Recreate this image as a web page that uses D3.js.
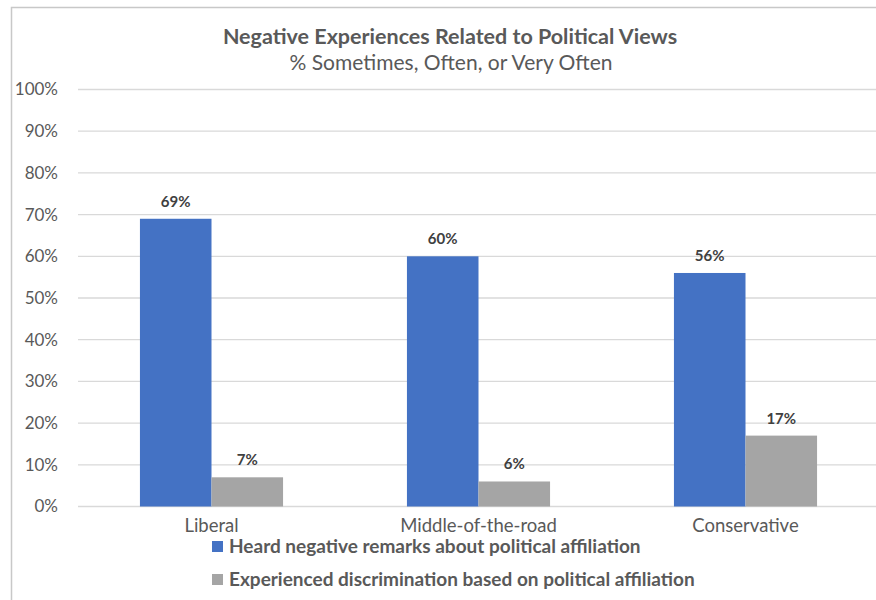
<!DOCTYPE html>
<html>
<head>
<meta charset="utf-8">
<script src="https://cdn.jsdelivr.net/npm/d3@7"></script>
<style>
  html, body { margin: 0; padding: 0; background: #fff; }
  svg { display: block; font-family: Lato, "Open Sans", sans-serif; }
</style>
</head>
<body>
<svg id="chart" width="876" height="600"></svg>
<script>
const categories = ["Liberal", "Middle-of-the-road", "Conservative"];
const seriesNames = [
  "Heard negative remarks about political affiliation",
  "Experienced discrimination based on political affiliation"
];
const heardRemarks = [69, 60, 56];
const experiencedDiscrimination = [7, 6, 17];
const yTicks = [0, 10, 20, 30, 40, 50, 60, 70, 80, 90, 100];
const colors = ["#4472C4", "#A5A5A5"];

const series = [heardRemarks, experiencedDiscrimination];
const svg = d3.select("#chart");

// Chart frame
svg.append("rect")
  .attr("x", 11.5).attr("y", 7.5)
  .attr("width", 880).attr("height", 620)
  .attr("fill", "none").attr("stroke", "#c8c8c8").attr("stroke-width", 1.5);

// Titles
svg.append("text")
  .attr("x", 450).attr("y", 44)
  .attr("text-anchor", "middle")
  .attr("font-size", 21.5).attr("font-weight", "bold").attr("fill", "#595959")
  .text("Negative Experiences Related to Political Views");
svg.append("text")
  .attr("x", 451).attr("y", 70)
  .attr("text-anchor", "middle")
  .attr("font-size", 21).attr("fill", "#595959")
  .text("% Sometimes, Often, or Very Often");

const x = d3.scaleBand().domain(categories).range([78, 879]).paddingInner(0).paddingOuter(0);
const y = d3.scaleLinear().domain([0, 100]).range([506.5, 89.5]);
const groupWidth = x.bandwidth() * 0.536;
const x1 = d3.scaleBand().domain(d3.range(series.length)).range([0, groupWidth]);

// Gridlines
svg.append("g")
  .selectAll("line")
  .data(yTicks)
  .join("line")
  .attr("x1", 78).attr("x2", 879)
  .attr("y1", d => y(d)).attr("y2", d => y(d))
  .attr("stroke", "#d9d9d9").attr("stroke-width", 1.3);

// Y axis labels
const yAxis = d3.axisLeft(y).tickValues(yTicks).tickFormat(d => d + "%").tickSize(0).tickPadding(0);
const yg = svg.append("g").attr("transform", "translate(58,0)").call(yAxis);
yg.select(".domain").remove();
yg.selectAll("text").attr("font-size", 17).attr("fill", "#595959").attr("font-family", "Lato, sans-serif");

// Bars
series.forEach((vals, si) => {
  const g = svg.append("g");
  g.selectAll("rect")
    .data(vals)
    .join("rect")
    .attr("x", (d, i) => x(categories[i]) + (x.bandwidth() - groupWidth) / 2 + x1(si))
    .attr("y", d => y(d))
    .attr("width", x1.bandwidth())
    .attr("height", d => y(0) - y(d))
    .attr("fill", colors[si]);
  g.selectAll("text")
    .data(vals)
    .join("text")
    .attr("x", (d, i) => x(categories[i]) + (x.bandwidth() - groupWidth) / 2 + x1(si) + x1.bandwidth() / 2)
    .attr("y", d => y(d) - 12)
    .attr("text-anchor", "middle")
    .attr("font-size", 15).attr("font-weight", "bold").attr("fill", "#404040")
    .text(d => d + "%");
});

// X axis labels
const xAxis = d3.axisBottom(x).tickSize(0).tickPadding(0);
const xg = svg.append("g").attr("transform", "translate(0,519)").call(xAxis);
xg.select(".domain").remove();
xg.selectAll("text").attr("font-size", 18.5).attr("fill", "#595959").attr("font-family", "Lato, sans-serif");

// Legend
const legend = svg.append("g");
seriesNames.forEach((name, i) => {
  const ly = 546 + i * 33;
  legend.append("rect")
    .attr("x", 212).attr("y", ly - 5).attr("width", 11).attr("height", 11)
    .attr("fill", colors[i]);
  legend.append("text")
    .attr("x", 229).attr("y", ly + 7)
    .attr("font-size", 19).attr("font-weight", "bold").attr("fill", "#595959")
    .text(name);
});
</script>
</body>
</html>
